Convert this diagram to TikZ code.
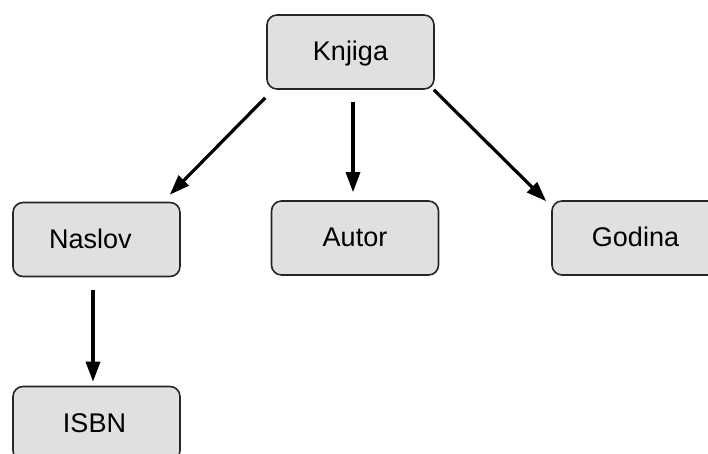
\documentclass[tikz,border=0pt]{standalone}
\usepackage{fontspec}
\setmainfont{Liberation Sans}
\usetikzlibrary{arrows.meta}
\begin{document}
\begin{tikzpicture}[x=1pt,y=-1pt,
  box/.style={draw=black!85, line width=1.6pt, fill=black!12, rounded corners=10pt,
    minimum width=167pt, minimum height=74pt, inner sep=0pt, text height=17pt, text depth=0pt,
    font=\fontsize{27}{31}\selectfont},
  arr/.style={line width=3.2pt, -{Triangle[length=20pt,width=14pt]}}]
\useasboundingbox (0,0) rectangle (708,454);
\begin{scope}
\clip (0,0) rectangle (708,454);
\node[box] (K) at (350.5,52) {Knjiga};
\node[box] (N) at (96.5,239.5) {\hspace*{-12pt}Naslov};
\node[box] (A) at (355,238) {Autor};
\node[box] (G) at (635.5,238) {Godina};
\node[box] (I) at (96.5,423.5) {\hspace*{-4pt}ISBN};
\end{scope}
\coordinate (k1) at ([shift={(-1,8)}]K.south west);
\coordinate (n1) at ([shift={(-11,-7)}]N.north east);
\coordinate (k2) at ([shift={(2.5,12)}]K.south);
\coordinate (a2) at ([shift={(-2,-8)}]A.north);
\coordinate (k3) at ([shift={(-1,0)}]K.south east);
\coordinate (g3) at ([shift={(-5,1)}]G.north west);
\coordinate (n4) at ([shift={(-3.5,13)}]N.south);
\coordinate (i4) at ([shift={(-3.5,-4)}]I.north);
\draw[arr] (k1) -- (n1);
\draw[arr] (k2) -- (a2);
\draw[arr] (k3) -- (g3);
\draw[arr] (n4) -- (i4);
\end{tikzpicture}
\end{document}
